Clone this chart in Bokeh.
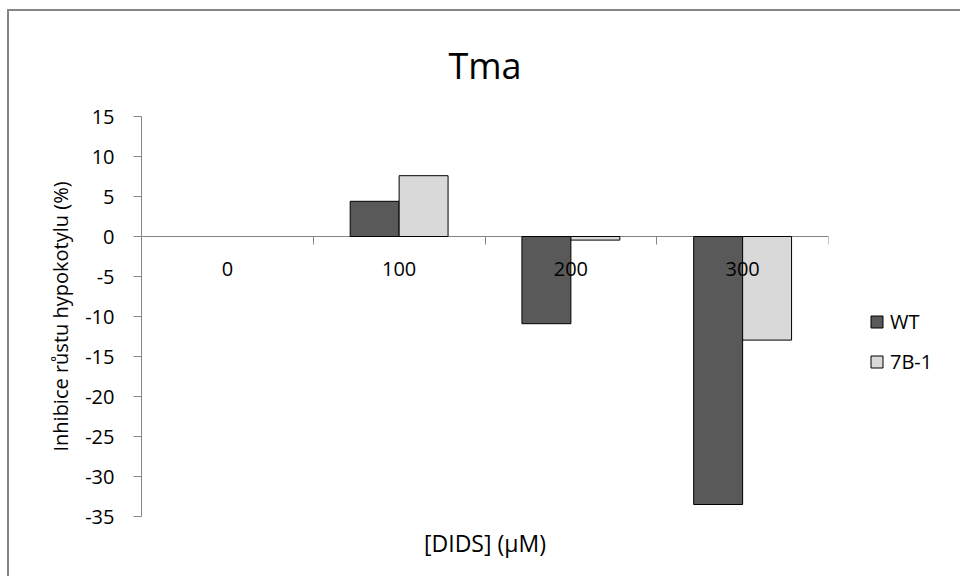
from bokeh.plotting import figure
from bokeh.models import (Range1d, LinearAxis, FixedTicker, Legend, LegendItem,
                          Title, ColumnDataSource)
from bokeh.embed import file_html
from bokeh.resources import INLINE

categories = ["0", "100", "200", "300"]
wt = [0.0, 4.4, -10.9, -33.5]
b71 = [0.0, 7.6, -0.45, -12.95]
series_names = ["WT", "7B-1"]
y_ticks = [-35, -30, -25, -20, -15, -10, -5, 0, 5, 10, 15]

FONT = "Open Sans"
idx = list(range(len(categories)))
bar_w = 0.285
src = ColumnDataSource(dict(
    x_wt=[i - bar_w / 2 for i in idx],
    x_b=[i + bar_w / 2 for i in idx],
    wt=wt, b=b71,
    lc_wt=["#000000" if v != 0 else None for v in wt],
    lc_b=["#000000" if v != 0 else None for v in b71],
))

p = figure(frame_width=687, frame_height=400, output_backend="svg", toolbar_location=None,
           x_range=Range1d(-0.5, len(categories) - 0.5),
           y_range=Range1d(min(y_ticks), max(y_ticks)),
           min_border_left=132, min_border_top=104, min_border_right=125,
           min_border_bottom=60,
           styles={"border-left": "2px solid #868686", "border-top": "2px solid #868686",
                   "margin-left": "7px", "margin-top": "9px"})
p.outline_line_color = None
p.xgrid.visible = False
p.ygrid.visible = False
p.xaxis.visible = False

# title
p.title.text = "Tma"
p.title.align = "center"
p.title.text_font = FONT
p.title.text_font_size = "36px"
p.title.text_font_style = "normal"
p.title.text_color = "#000000"
p.title.standoff = 54

# y axis
ya = p.yaxis[0]
ya.ticker = FixedTicker(ticks=y_ticks)
ya.major_label_overrides = {t: str(t) for t in y_ticks}
ya.axis_line_color = "#868686"
ya.major_tick_line_color = "#868686"
ya.major_tick_out = 8
ya.major_tick_in = 0
ya.minor_tick_line_color = None
ya.major_label_text_font = FONT
ya.major_label_text_font_size = "20px"
ya.major_label_text_color = "#000000"
ya.major_label_standoff = 19
ya.axis_label = "Inhibice růstu hypokotylu (%)"
ya.axis_label_text_font = FONT
ya.axis_label_text_font_size = "20px"
ya.axis_label_text_font_style = "normal"
ya.axis_label_text_color = "#000000"
ya.axis_label_standoff = 8

# bars
r_wt = p.vbar(x="x_wt", top="wt", bottom=0, width=bar_w, source=src,
              fill_color="#595959", line_color="lc_wt", line_width=1)
r_b = p.vbar(x="x_b", top="b", bottom=0, width=bar_w, source=src,
             fill_color="#d9d9d9", line_color="lc_b", line_width=1)

# x axis at zero: boundary ticks
bounds = [i + 0.5 for i in idx]
xa_ticks = LinearAxis(fixed_location=0, ticker=FixedTicker(ticks=bounds),
                      axis_line_color="#868686", major_tick_line_color="#868686",
                      major_tick_out=8, major_tick_in=0, minor_tick_line_color=None,
                      major_label_text_alpha=0, level="underlay")
p.add_layout(xa_ticks, "below")
# x axis category labels
xa_lab = LinearAxis(fixed_location=0, ticker=FixedTicker(ticks=idx),
                    major_label_overrides={i: c for i, c in zip(idx, categories)},
                    axis_line_color=None, major_tick_line_color=None,
                    major_tick_out=0, major_tick_in=0, minor_tick_line_color=None,
                    major_label_standoff=25, major_label_text_font=FONT,
                    major_label_text_font_size="20px",
                    major_label_text_color="#000000")
p.add_layout(xa_lab, "below")

# x axis label
p.add_layout(Title(text="[DIDS] (µM)", align="center", text_font=FONT,
                   text_font_size="23px", text_font_style="normal",
                   text_color="#000000", standoff=16), "below")

legend = Legend(items=[LegendItem(label=series_names[0], renderers=[r_wt], index=1),
                       LegendItem(label=series_names[1], renderers=[r_b], index=1)],
                location=(41, 141), border_line_color=None,
                background_fill_alpha=0, glyph_width=15, glyph_height=15,
                label_text_font=FONT, label_text_font_size="20px",
                label_text_color="#000000", label_standoff=6,
                label_height=20, spacing=13, padding=0, margin=0)
p.add_layout(legend, "right")

open("out.html", "w").write(file_html(p, INLINE))
